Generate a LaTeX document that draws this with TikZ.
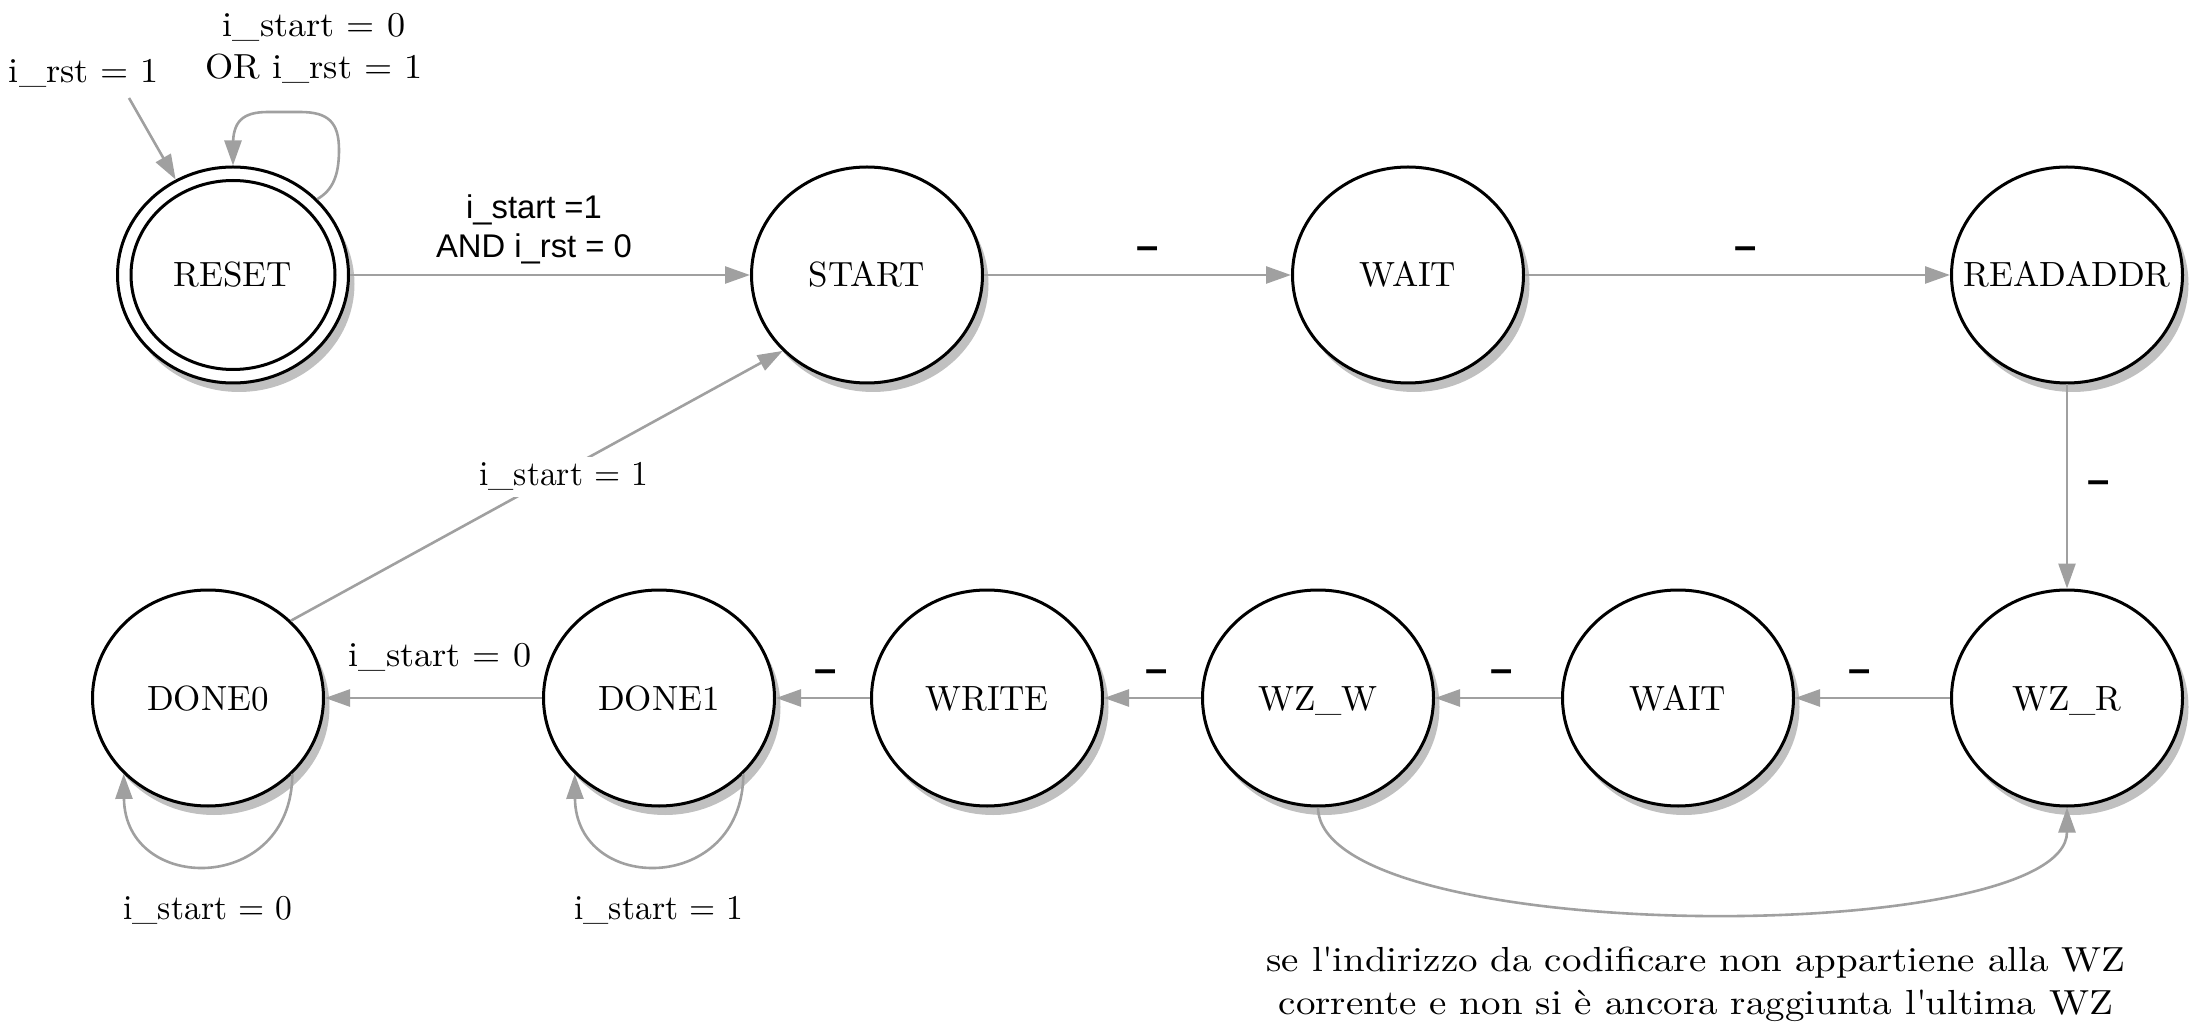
\documentclass[tikz,border=0pt]{standalone}
\usepackage{fontspec}
\newfontfamily\lsans{Liberation Sans}
\newfontfamily\lmten{lmroman10-regular}[Extension=.otf]
\newfontfamily\lmlbl{lmroman10-regular}[Extension=.otf, FakeStretch=1.04]
\newfontfamily\lmnarrow{lmroman10-regular}[Extension=.otf, FakeStretch=0.965]
\newfontfamily\lmwide{lmroman10-regular}[Extension=.otf, FakeStretch=1.12]
\usetikzlibrary{shapes.geometric,arrows.meta,shadows}
\definecolor{lgray}{HTML}{A0A0A0}
\definecolor{sgray}{HTML}{C0C0C0}
\newcommand\lmfont{\lmten\fontsize{17.5pt}{21pt}\selectfont}
\newcommand\lblfont{\lmlbl\fontsize{17.4pt}{21pt}\selectfont}
\newcommand\narrowfont{\lmnarrow\fontsize{17.4pt}{21pt}\selectfont}
\newcommand\widefont{\lmwide\fontsize{17.4pt}{21.5pt}\selectfont}
\newcommand\sansfnt{\lsans\fontsize{16.4pt}{19.6pt}\selectfont}
\newcommand\dashfnt{\lsans\bfseries\fontsize{20pt}{20pt}\selectfont}
\newcommand\stt[1]{\makebox[0pt]{#1}}
\begin{document}
\begin{tikzpicture}[x=0.5pt,y=-0.5pt,
  state/.style={ellipse, draw=black, line width=1.5pt, fill=white,
    minimum width=115.5pt, minimum height=108pt, inner sep=0pt,
    text height=12pt, text depth=0pt, font=\lmfont,
    drop shadow={shadow xshift=3pt, shadow yshift=-4.5pt, fill=sgray, opacity=1}},
  innerstate/.style={ellipse, draw=black, line width=1.5pt,
    minimum width=102pt, minimum height=94.5pt, inner sep=0pt,
    text height=12pt, text depth=0pt, font=\lmfont},
  edge/.style={draw=lgray, line width=1.3pt, -{Triangle[length=12.5pt,width=8.5pt]}},
  lbl/.style={font=\lblfont, inner sep=1pt, text=black},
  sanslbl/.style={font=\sansfnt, align=center, inner sep=1pt, text=black},
  dashlbl/.style={font=\dashfnt, text height=11.2pt, text depth=0pt, inner sep=0pt, anchor=center, text=black}]
\useasboundingbox (0,0) rectangle (2196,1026);

% states
\node[state] (RESET) at (233,275) {};
\node[innerstate] (RESETin) at (233,275) {\stt{RESET}};
\node[state] (START) at (867,275) {\stt{START}};
\node[state] (WAIT) at (1408,275) {\stt{WAIT}};
\node[state] (READADDR) at (2067,275) {\stt{READADDR}};
\node[state] (DONE0) at (208,698) {\stt{DONE0}};
\node[state] (DONE1) at (659,698) {\stt{DONE1}};
\node[state] (WRITE) at (987,698) {\stt{WRITE}};
\node[state] (WZW) at (1318,698) {\stt{WZ\_W}};
\node[state] (WAITb) at (1678,698) {\stt{WAIT}};
\node[state] (WZR) at (2067,698) {\stt{WZ\_R}};

% initial arrow
\coordinate (init) at (129,98);
\draw[edge] (init) -- (RESET.121);
\node[lbl, anchor=base] (lblinit) at (84,83) {i\_rst = 1};

% RESET self loop
\draw[edge] (RESET.42) .. controls (333,190) and (339,175) .. (339,150)
  .. controls (339,122) and (328,112) .. (300,112) -- (268,112)
  .. controls (242,112) and (233,122) .. (233,145) -- (RESET.north);
\node[lbl, align=center] (lblloop) at (314,48) {i\_start = 0\\OR i\_rst = 1};

% top row
\draw[edge] (RESET.east) -- node[sanslbl, pos=0.46, yshift=23pt] (lblrs) {i\_start =1\\AND i\_rst = 0} (START.west);
\draw[edge] (START.east) -- node[dashlbl, pos=0.533, yshift=13.5pt] (d1) {–} (WAIT.west);
\draw[edge] (WAIT.east) -- node[dashlbl, pos=0.52, yshift=13.5pt] (d2) {–} (READADDR.west);
\draw[edge] (READADDR.south) -- node[dashlbl, pos=0.478, xshift=15.75pt] (d3) {–} (WZR.north);

% bottom row
\draw[edge] (WZR.west) -- node[dashlbl, pos=0.58, yshift=13.5pt] (d4) {–} (WAITb.east);
\draw[edge] (WAITb.west) -- node[dashlbl, pos=0.47, yshift=13.5pt] (d5) {–} (WZW.east);
\draw[edge] (WZW.west) -- node[dashlbl, pos=0.46, yshift=13.5pt] (d6) {–} (WRITE.east);
\draw[edge] (WRITE.west) -- node[dashlbl, pos=0.47, yshift=13.5pt] (d7) {–} (DONE1.east);
\draw[edge] (DONE1.west) -- node[lbl, pos=0.47, anchor=base, yshift=16pt] (lbld10) {i\_start = 0} (DONE0.east);

% DONE0 -> START
\draw[edge] (DONE0.43) -- node[lbl, font=\narrowfont, pos=0.555, fill=white, inner sep=3pt, yshift=-2.8pt] (lblds) {i\_start = 1} (START.222);

% self loops of DONE0 and DONE1
\draw[edge] (DONE0.-42) .. controls (292,895) and (125,895) .. (DONE0.-138);
\node[lbl, font=\narrowfont, anchor=base] (lbld0) at (208,919) {i\_start = 0};
\draw[edge] (DONE1.-42) .. controls (743,895) and (576,895) .. (DONE1.-138);
\node[lbl, font=\narrowfont, anchor=base] (lbld1) at (659,919) {i\_start = 1};

% WZ_W -> WZ_R
\draw[edge] (WZW.south) .. controls (1320,948) and (2067,948) .. (WZR.south);
\node[lbl, font=\widefont, align=center] (lblwz) at (1696,984) {se l\textquotesingle indirizzo da codificare non appartiene alla WZ\\corrente e non si è ancora raggiunta l\textquotesingle ultima WZ};
\end{tikzpicture}
\end{document}
